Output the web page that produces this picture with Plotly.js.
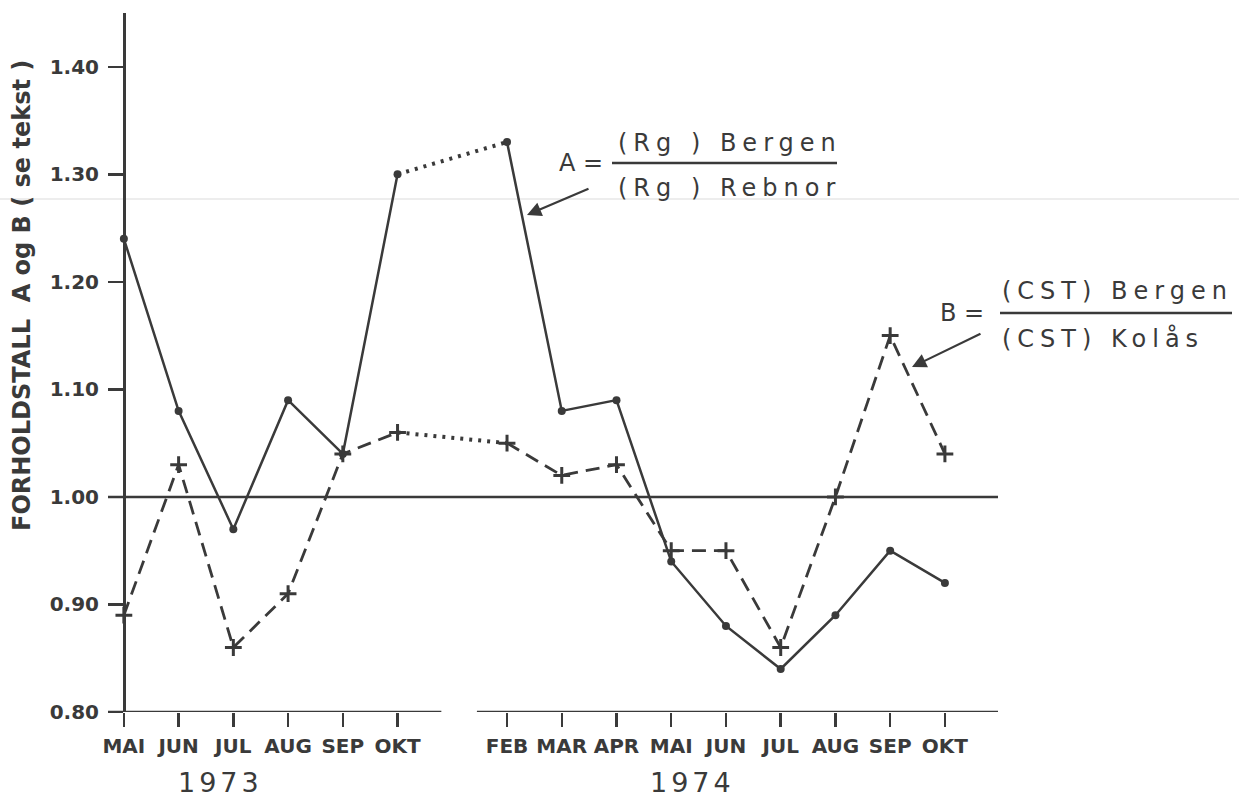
<!DOCTYPE html>
<html>
<head>
<meta charset="utf-8">
<script src="https://cdn.plot.ly/plotly-3.0.1.min.js"></script>
<style>html,body{margin:0;padding:0;background:#fff;}#chart{width:1239px;height:800px;}</style>
</head>
<body>
<div id="chart"></div>
<script>
// ---- data ----
const months1973 = ["MAI", "JUN", "JUL", "AUG", "SEP", "OKT"];
const months1974 = ["FEB", "MAR", "APR", "MAI", "JUN", "JUL", "AUG", "SEP", "OKT"];
const pos1973 = [0, 1, 2, 3, 4, 5];
const pos1974 = [7, 8, 9, 10, 11, 12, 13, 14, 15];
const A1973 = [1.24, 1.08, 0.97, 1.09, 1.04, 1.30];
const A1974 = [1.33, 1.08, 1.09, 0.94, 0.88, 0.84, 0.89, 0.95, 0.92];
const B1973 = [0.89, 1.03, 0.86, 0.91, 1.04, 1.06];
const B1974 = [1.05, 1.02, 1.03, 0.95, 0.95, 0.86, 1.00, 1.15, 1.04];
const years = ["1973", "1974"];
const refLevel = 1.00;

// ---- style ----
const INK = "#3a3a3a";
const FONT = "DejaVu Sans";
const L = 108, R = 998, T = 13, B = 712;
const px = xp => (xp - L) / (R - L);
const py = yp => (B - yp) / (B - T);

const last = a => a[a.length - 1];
const plusMarker = {symbol: "cross-thin-open", size: 12, line: {color: INK, width: 3}};
const dotMarker = {symbol: "circle", size: 8, color: INK};
const traces = [
  {x: pos1973, y: A1973, mode: "lines+markers", line: {color: INK, width: 2.5}, marker: dotMarker, name: "A"},
  {x: [last(pos1973), pos1974[0]], y: [last(A1973), A1974[0]], mode: "lines",
   line: {color: INK, width: 4, dash: "3px,6px"}, name: "A"},
  {x: pos1974, y: A1974, mode: "lines+markers", line: {color: INK, width: 2.5}, marker: dotMarker, name: "A"},
  {x: pos1973, y: B1973, mode: "lines+markers", line: {color: INK, width: 2.8, dash: "14px,8px"},
   marker: plusMarker, name: "B"},
  {x: [last(pos1973), pos1974[0]], y: [last(B1973), B1974[0]], mode: "lines",
   line: {color: INK, width: 4, dash: "3px,6px"}, name: "B"},
  {x: pos1974, y: B1974, mode: "lines+markers", line: {color: INK, width: 2.8, dash: "14px,8px"},
   marker: plusMarker, name: "B"}
];

const xr = [-0.29, 15.97];
const shapes = [
  {type: "line", xref: "paper", yref: "paper", x0: -0.2, x1: 1.3, y0: py(199), y1: py(199),
   line: {color: "rgba(0,0,0,0.07)", width: 2}, layer: "below"},
  {type: "line", xref: "x", yref: "y", x0: xr[0], x1: xr[1], y0: refLevel, y1: refLevel,
   line: {color: INK, width: 2.5}},
  {type: "line", xref: "x", yref: "y", x0: xr[0], x1: 5.8, y0: 0.8, y1: 0.8, line: {color: INK, width: 2.5}},
  {type: "line", xref: "x", yref: "y", x0: 6.45, x1: xr[1], y0: 0.8, y1: 0.8, line: {color: INK, width: 2.5}},
  {type: "line", xref: "paper", yref: "paper", x0: px(612), x1: px(837), y0: py(163), y1: py(163),
   line: {color: INK, width: 2.5}},
  {type: "line", xref: "paper", yref: "paper", x0: px(1000), x1: px(1232), y0: py(313), y1: py(313),
   line: {color: INK, width: 2.5}}
];

const sp = (s, ls) => '<span style="letter-spacing:' + ls + 'px">' + s + '</span>';
const fracFont = {family: FONT, size: 24, color: INK};
const yearFont = {family: FONT, size: 27, color: INK};
const annotations = [
  {xref: "paper", yref: "paper", x: px(22), y: py(296), textangle: -90, showarrow: false,
   text: "FORHOLDSTALL  A og B ( se tekst )", font: {family: FONT, size: 24, color: INK, weight: "bold"},
   xanchor: "center", yanchor: "middle"},
  {xref: "paper", yref: "paper", x: px(220), y: py(782), showarrow: false, text: sp(years[0], 4),
   font: yearFont, xanchor: "center", yanchor: "middle"},
  {xref: "paper", yref: "paper", x: px(692), y: py(782), showarrow: false, text: sp(years[1], 4),
   font: yearFont, xanchor: "center", yanchor: "middle"},
  {xref: "paper", yref: "paper", x: px(581), y: py(163), showarrow: false, text: "A =",
   font: fracFont, xanchor: "center", yanchor: "middle"},
  {xref: "paper", yref: "paper", x: px(616), y: py(143), showarrow: false, text: sp("(Rg ) Bergen", 6),
   font: fracFont, xanchor: "left", yanchor: "middle"},
  {xref: "paper", yref: "paper", x: px(616), y: py(188), showarrow: false, text: sp("(Rg ) Rebnor", 6),
   font: fracFont, xanchor: "left", yanchor: "middle"},
  {xref: "paper", yref: "paper", x: px(962), y: py(313), showarrow: false, text: "B =",
   font: fracFont, xanchor: "center", yanchor: "middle"},
  {xref: "paper", yref: "paper", x: px(1000), y: py(291), showarrow: false, text: sp("(CST) Bergen", 6),
   font: fracFont, xanchor: "left", yanchor: "middle"},
  {xref: "paper", yref: "paper", x: px(1000), y: py(338), showarrow: false, text: sp("(CST) Kolås", 6),
   font: fracFont, xanchor: "left", yanchor: "middle"},
  {xref: "paper", yref: "paper", x: px(527), y: py(215), ax: 63, ay: -27, text: "", showarrow: true,
   arrowhead: 2, arrowsize: 1.3, arrowwidth: 2.2, arrowcolor: INK},
  {xref: "paper", yref: "paper", x: px(912), y: py(367), ax: 70, ay: -34, text: "", showarrow: true,
   arrowhead: 2, arrowsize: 1.3, arrowwidth: 2.2, arrowcolor: INK}
];

const layout = {
  width: 1239, height: 800,
  margin: {l: L, r: 1239 - R, t: T, b: 800 - B, pad: 0},
  paper_bgcolor: "#ffffff", plot_bgcolor: "rgba(0,0,0,0)",
  showlegend: false,
  xaxis: {range: xr, showgrid: false, zeroline: false, showline: false,
    tickmode: "array", tickvals: pos1973.concat(pos1974), ticktext: months1973.concat(months1974),
    ticks: "outside", ticklen: 14, tickwidth: 2.5, tickcolor: INK, ticklabelstandoff: 2,
    tickfont: {family: FONT, size: 20, color: INK, weight: "bold"}},
  yaxis: {range: [0.8, 1.45], showgrid: false, zeroline: false, showline: true, linecolor: INK, linewidth: 2.5,
    anchor: "free", position: px(124),
    tickmode: "array", tickvals: [0.8, 0.9, 1.0, 1.1, 1.2, 1.3, 1.4],
    ticktext: ["0.80", "0.90", "1.00", "1.10", "1.20", "1.30", "1.40"],
    ticks: "outside", ticklen: 15, tickwidth: 2.5, tickcolor: INK, ticklabelstandoff: 5,
    tickfont: {family: FONT, size: 20, color: INK, weight: "bold"}},
  shapes: shapes,
  annotations: annotations
};

Plotly.newPlot("chart", traces, layout, {displayModeBar: false, staticPlot: true});
</script>
</body>
</html>
